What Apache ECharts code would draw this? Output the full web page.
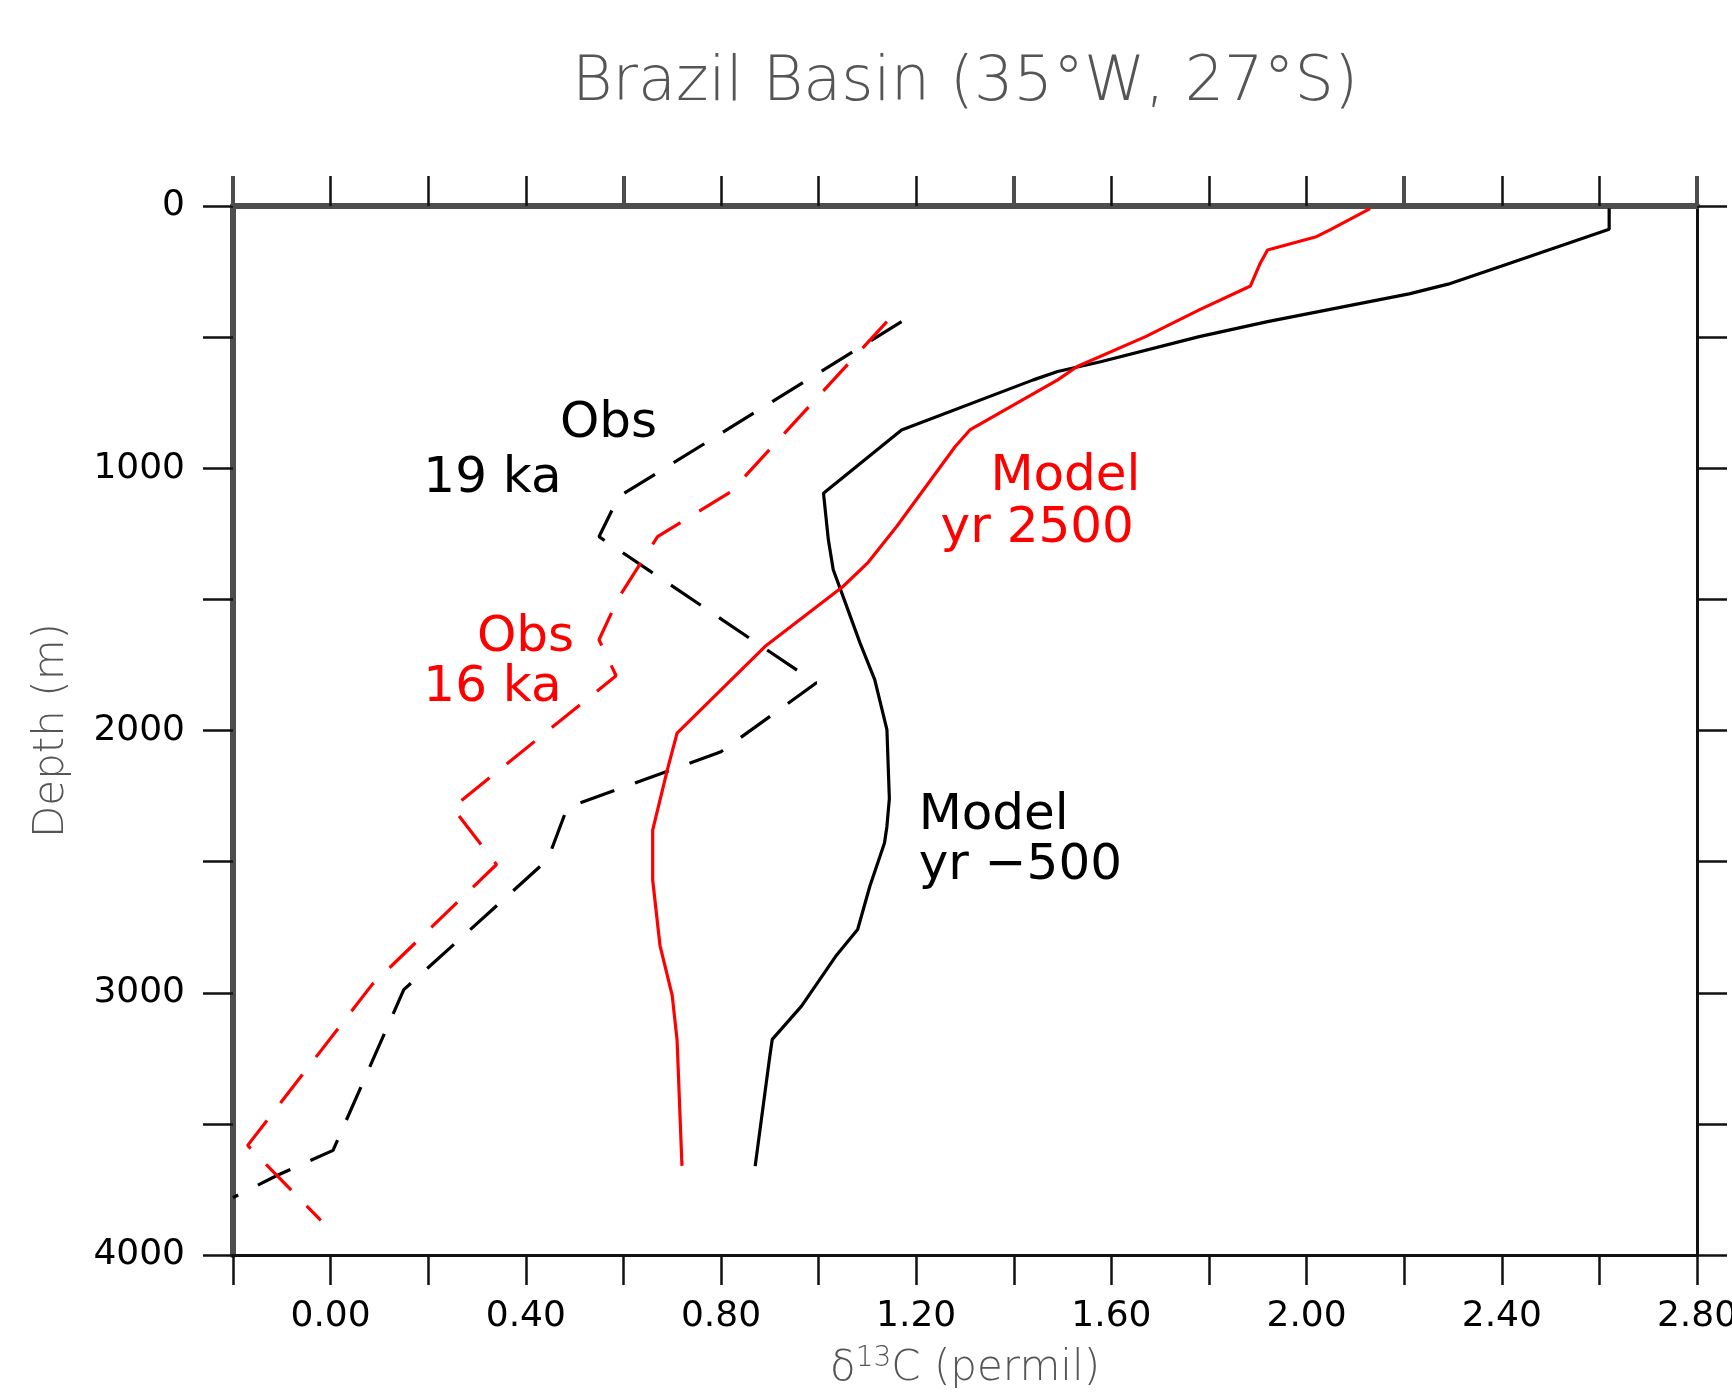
<!DOCTYPE html>
<html>
<head>
<meta charset="utf-8">
<title>Brazil Basin</title>
<script src="https://cdn.jsdelivr.net/npm/echarts@6/dist/echarts.min.js"></script>
<style>
  html, body { margin: 0; padding: 0; background: #fff; }
  #chart { width: 1732px; height: 1394px; }
</style>
</head>
<body>
<div id="chart"></div>
<script>
  // Model yr -500 (black solid)
  var preDepth = [10, 89, 229, 298, 335, 441, 498, 593, 631, 663, 854, 1095, 1273, 1387, 1463, 1667, 1806, 1997, 2260, 2366, 2429, 2594, 2759, 2861, 3051, 3178, 3242, 3661];
  var preD13c = [2.62, 2.62, 2.40, 2.29, 2.21, 1.92, 1.78, 1.58, 1.49, 1.44, 1.17, 1.01, 1.02, 1.03, 1.045, 1.085, 1.115, 1.14, 1.145, 1.14, 1.135, 1.105, 1.08, 1.035, 0.965, 0.905, 0.90, 0.87];

  // Model yr 2500 (red solid)
  var futDepth = [10, 89, 117, 168, 218, 305, 396, 498, 612, 663, 854, 917, 1222, 1362, 1451, 1680, 2010, 2150, 2380, 2570, 2820, 3010, 3180, 3660];
  var futD13c = [2.13, 2.05, 2.02, 1.92, 1.905, 1.885, 1.78, 1.67, 1.53, 1.49, 1.31, 1.28, 1.16, 1.10, 1.05, 0.89, 0.71, 0.69, 0.66, 0.66, 0.675, 0.70, 0.71, 0.72];

  // Obs 19 ka (black dashed)
  var obs19Depth = [441, 1109, 1261, 1819, 2081, 2294, 2492, 2988, 3601, 3697, 3781];
  var obs19D13c = [1.17, 0.59, 0.55, 0.995, 0.80, 0.485, 0.445, 0.15, 0.005, -0.11, -0.20];

  // Obs 16 ka (red dashed)
  var obs16Depth = [441, 1090, 1261, 1494, 1654, 1791, 2294, 2511, 2969, 3582, 3868];
  var obs16D13c = [1.14, 0.82, 0.67, 0.59, 0.55, 0.585, 0.25, 0.34, 0.085, -0.17, -0.02];

  // curve labels: text and anchor in data units
  var labelText = ['Obs', '19 ka', 'Obs', '16 ka', 'Model', 'yr 2500', 'Model', 'yr \u2212500'];
  var labelD13c = [0.47, 0.19, 0.30, 0.19, 1.352, 1.25, 1.205, 1.205];
  var labelDepth = [830, 1042, 1646, 1839, 1035, 1231, 2327, 2515];
  var labelColor = ['#000', '#000', '#ff0000', '#ff0000', '#ff0000', '#ff0000', '#000', '#000'];

  var FONT = 'DejaVu Sans';

  function pairs(xs, ys) {
    var out = [];
    for (var i = 0; i < xs.length; i++) out.push([xs[i], ys[i]]);
    return out;
  }

  function lineSeries(name, xs, ys, color, dashed) {
    return {
      type: 'line',
      name: name,
      data: pairs(xs, ys),
      showSymbol: false,
      symbol: 'none',
      smooth: false,
      clip: true,
      animation: false,
      lineStyle: {color: color, width: 3.2, type: dashed ? [36, 22] : 'solid'}
    };
  }

  var chart = echarts.init(document.getElementById('chart'));

  var xBase = {
    type: 'value',
    min: -0.2,
    max: 2.8,
    interval: 0.2,
    splitLine: {show: false}
  };

  var yBase = {
    type: 'value',
    inverse: true,
    min: 0,
    max: 4000,
    interval: 500,
    splitLine: {show: false}
  };

  chart.setOption({
    animation: false,
    backgroundColor: '#fff',
    grid: {left: 233, right: 35, top: 206, bottom: 139, containLabel: false, outerBoundsMode: 'none'},
    xAxis: [
      Object.assign({}, xBase, {
        position: 'bottom',
        axisLine: {show: true, onZero: false, lineStyle: {color: '#111', width: 3}},
        axisTick: {show: true, length: 30, lineStyle: {color: '#111', width: 2.5}},
        axisLabel: {
          margin: 44, fontSize: 36, color: '#000', fontFamily: FONT,
          formatter: function (v) {
            return Math.round(v * 10) % 4 === 0 ? v.toFixed(2) : '';
          }
        },
        name: '{d|\u03b4}{s|13}{d|C (permil)}',
        nameLocation: 'middle',
        nameGap: 90,
        nameTextStyle: {
          color: '#555', fontFamily: FONT, fontSize: 42, verticalAlign: 'top',
          rich: {
            d: {color: '#555', fontFamily: FONT, fontSize: 42, fontWeight: 200},
            s: {color: '#555', fontFamily: FONT, fontSize: 28, fontWeight: 200, padding: [0, 0, 20, 0]}
          }
        }
      }),
      Object.assign({}, xBase, {
        position: 'top',
        axisLine: {show: true, onZero: false, lineStyle: {color: '#4d4d4d', width: 6}},
        axisTick: {show: true, length: 30, lineStyle: {color: '#111', width: 2.5}},
        axisLabel: {show: false}
      }),
      /*thicker grey ticks on top*/
      Object.assign({}, xBase, {
        position: 'top',
        interval: 0.8,
        axisLine: {show: false, onZero: false},
        axisTick: {show: true, length: 30, lineStyle: {color: '#4d4d4d', width: 4}},
        axisLabel: {show: false}
      })
    ],
    yAxis: [
      Object.assign({}, yBase, {
        position: 'left',
        axisLine: {show: true, onZero: false, lineStyle: {color: '#4d4d4d', width: 6}},
        axisTick: {show: true, length: 30, lineStyle: {color: '#111', width: 2.5}},
        axisLabel: {
          margin: 48, fontSize: 36, color: '#000', fontFamily: FONT,
          formatter: function (v) {
            return v % 1000 === 0 ? String(v) : '';
          }
        },
        name: 'Depth (m)',
        nameLocation: 'middle',
        nameRotate: 90,
        nameGap: 160,
        nameTextStyle: {color: '#555', fontFamily: FONT, fontSize: 42, fontWeight: 200}
      }),
      Object.assign({}, yBase, {
        position: 'right',
        axisLine: {show: true, onZero: false, lineStyle: {color: '#111', width: 3}},
        axisTick: {show: true, length: 30, lineStyle: {color: '#111', width: 2.5}},
        axisLabel: {show: false}
      })
    ],
    series: [
      lineSeries('Obs 19 ka', obs19D13c, obs19Depth, '#000', true),
      lineSeries('Obs 16 ka', obs16D13c, obs16Depth, '#ff0000', true),
      lineSeries('Model yr -500', preD13c, preDepth, '#000', false),
      lineSeries('Model yr 2500', futD13c, futDepth, '#ff0000', false)
    ]
  });

  /*title and curve labels*/
  var graphics = [{
    type: 'text',
    x: 965,
    y: 84,
    style: {
      text: 'Brazil Basin (35\u00b0W, 27\u00b0S)',
      fill: '#555',
      font: '200 62px "' + FONT + '"',
      textAlign: 'center',
      textVerticalAlign: 'middle'
    }
  }];

  labelText.forEach(function (t, i) {
    var p = chart.convertToPixel({xAxisIndex: 0, yAxisIndex: 0}, [labelD13c[i], labelDepth[i]]);
    graphics.push({
      type: 'text',
      x: p[0],
      y: p[1],
      style: {
        text: t,
        fill: labelColor[i],
        font: '50px "' + FONT + '"',
        textAlign: 'left',
        textVerticalAlign: 'middle'
      }
    });
  });

  chart.setOption({graphic: graphics});
</script>
</body>
</html>
